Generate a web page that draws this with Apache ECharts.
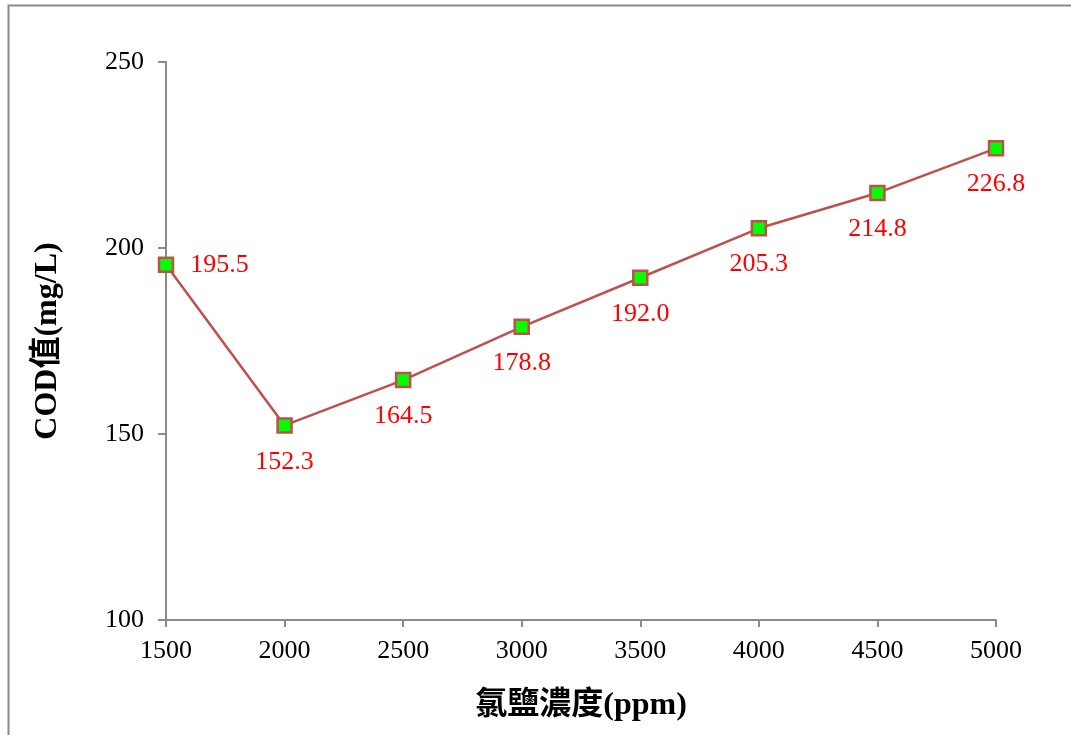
<!DOCTYPE html>
<html><head><meta charset="utf-8">
<script src="https://cdn.jsdelivr.net/npm/echarts@6/dist/echarts.min.js"></script>
<style>html,body{margin:0;padding:0;background:#fff}#c{width:1071px;height:735px}</style>
</head><body><div id="c"></div>
<script>
const xValues = [1500, 2000, 2500, 3000, 3500, 4000, 4500, 5000];
const codValues = [195.5, 152.3, 164.5, 178.8, 192.0, 205.3, 214.8, 226.8];
const xTitle = '氯鹽濃度(ppm)';
const yTitle = 'COD值(mg/L)';

const serif = '"Liberation Serif", "Times New Roman", "Noto Sans CJK TC", serif';
const chart = echarts.init(document.getElementById('c'));
const pts = xValues.map((x, i) => ({
  value: [x, codValues[i]],
  label: i === 0 ? { position: 'right', distance: 16 } : {}
}));
chart.setOption({
  animation: false,
  graphic: [{ type: 'rect', shape: { x: 8.5, y: 5.5, width: 1100, height: 800 },
    style: { fill: 'none', stroke: '#8a8a8a', lineWidth: 2 }, silent: true }],
  grid: { left: 166, right: 75, top: 62, bottom: 115 },
  xAxis: {
    type: 'value', min: 1500, max: 5000, interval: 500,
    name: xTitle, nameLocation: 'middle', nameGap: 70,
    nameTextStyle: { fontFamily: serif, fontSize: 32, fontWeight: 'bold', color: '#000' },
    axisLine: { lineStyle: { color: '#8a8a8a', width: 2 } },
    axisTick: { show: true, inside: false, length: 7, lineStyle: { color: '#8a8a8a', width: 2 } },
    axisLabel: { fontFamily: serif, fontSize: 26, color: '#000', margin: 18, formatter: v => String(v) },
    splitLine: { show: false }
  },
  yAxis: {
    type: 'value', min: 100, max: 250, interval: 50,
    name: yTitle, nameLocation: 'middle', nameGap: 102, nameRotate: 90,
    nameTextStyle: { fontFamily: serif, fontSize: 32, fontWeight: 'bold', color: '#000' },
    axisLine: { show: true, lineStyle: { color: '#8a8a8a', width: 2 } },
    axisTick: { show: true, length: 8, lineStyle: { color: '#8a8a8a', width: 2 } },
    axisLabel: { fontFamily: serif, fontSize: 26, color: '#000', margin: 22 },
    splitLine: { show: false }
  },
  series: [{
    type: 'line', data: pts,
    symbol: 'rect', symbolSize: 14,
    lineStyle: { color: '#C0504D', width: 2.5 },
    itemStyle: { color: '#00FF00', borderColor: '#C0504D', borderWidth: 2.5 },
    label: { show: true, position: 'bottom', distance: 15, color: '#FF0000',
      fontFamily: serif, fontSize: 26,
      formatter: p => p.value[1].toFixed(1) }
  }]
});
</script></body></html>
